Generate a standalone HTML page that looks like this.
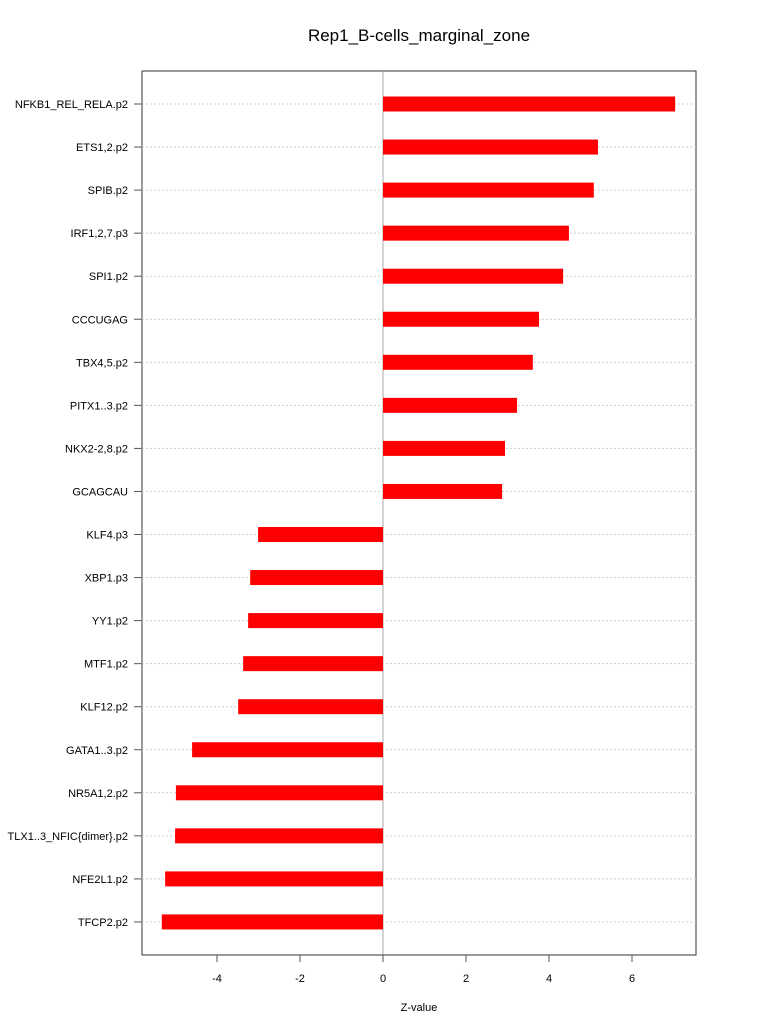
<!DOCTYPE html>
<html><head><meta charset="utf-8">
<style>
body{margin:0;background:#fff;}
svg{display:block;font-family:"Liberation Sans",sans-serif;}
</style></head>
<body>
<svg id="chart" width="768" height="1028" xmlns="http://www.w3.org/2000/svg">
<text x="419" y="41" text-anchor="middle" font-size="17">Rep1_B-cells_marginal_zone</text>
<rect x="142" y="71" width="554" height="884" fill="none" stroke="#333" stroke-width="1"/>
<g id="grid"></g>
<g id="bars"></g>
<g id="ylabels"></g>
<g id="xaxis"></g>
<text x="419" y="1011" text-anchor="middle" font-size="11">Z-value</text>
</svg>
<script>
const categories = ["NFKB1_REL_RELA.p2","ETS1,2.p2","SPIB.p2","IRF1,2,7.p3","SPI1.p2","CCCUGAG","TBX4,5.p2","PITX1..3.p2","NKX2-2,8.p2","GCAGCAU","KLF4.p3","XBP1.p3","YY1.p2","MTF1.p2","KLF12.p2","GATA1..3.p2","NR5A1,2.p2","TLX1..3_NFIC{dimer}.p2","NFE2L1.p2","TFCP2.p2"];
const values = [7.04,5.18,5.08,4.48,4.34,3.76,3.61,3.23,2.94,2.87,-3.01,-3.20,-3.25,-3.37,-3.49,-4.60,-4.99,-5.01,-5.25,-5.33];
const xTicks = [-4,-2,0,2,4,6];
const NS="http://www.w3.org/2000/svg";
function xs(v){return 383+v*41.5;}
function ys(i){return 104+i*43.05;}
function mk(t,a,p){const e=document.createElementNS(NS,t);for(const k in a)e.setAttribute(k,a[k]);p.appendChild(e);return e;}
const grid=document.getElementById('grid'),bars=document.getElementById('bars'),yl=document.getElementById('ylabels'),xa=document.getElementById('xaxis');
const zl=mk('line',{x1:xs(0),x2:xs(0),y1:71,y2:955,stroke:'#aaa','stroke-width':1},grid);


categories.forEach((c,i)=>{
  const y=ys(i);
  const g=mk('line',{x1:142,x2:696,y1:y,y2:y,stroke:'#ccc','stroke-dasharray':'2,2','stroke-width':1},grid);
  
  
  const tk=mk('line',{x1:134,x2:142,y1:y,y2:y,stroke:'#555','stroke-width':1},grid);
  
  
  const v=values[i];
  const r=mk('rect',{x:Math.min(xs(0),xs(v)),y:y-7.5,width:Math.abs(xs(v)-xs(0)),height:15,fill:'#ff0000'},bars);
  
  
  const t=mk('text',{x:128,y:y+4,'text-anchor':'end','font-size':11},yl);
  t.textContent=c;
  
  
});
const ax=mk('line',{x1:xs(-4),x2:xs(6),y1:955,y2:955,stroke:'#333'},xa);


xTicks.forEach(v=>{
  const l=mk('line',{x1:xs(v),x2:xs(v),y1:955,y2:962,stroke:'#555'},xa);
  
  
  const t=mk('text',{x:xs(v),y:982,'text-anchor':'middle','font-size':11},xa);
  t.textContent=v;
  
  
});
</script>
</body></html>
